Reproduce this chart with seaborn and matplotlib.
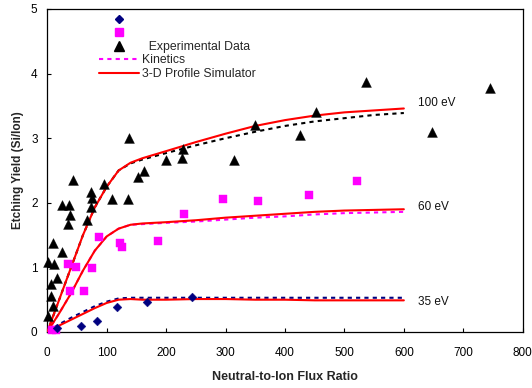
import matplotlib
matplotlib.use("Agg")
import matplotlib.pyplot as plt
from matplotlib.lines import Line2D
import seaborn as sns
import pandas as pd

# ---- experimental data ----
flux_100 = [2, 9, 7, 6, 17, 2, 12, 24, 9, 34, 39, 24, 37, 44, 66, 73, 76, 74,
            95, 109, 136, 138, 152, 162, 200, 227, 229, 314, 349, 425, 452, 536, 647, 745]
yield_100 = [0.24, 0.40, 0.55, 0.75, 0.83, 1.09, 1.06, 1.24, 1.37, 1.67, 1.81, 1.97, 1.97, 2.36, 1.73, 1.93, 2.08, 2.17,
             2.29, 2.06, 2.06, 3.01, 2.40, 2.49, 2.66, 2.70, 2.84, 2.67, 3.20, 3.05, 3.41, 3.87, 3.09, 3.78]

flux_60 = [8, 15, 34, 39, 49, 61, 75, 87, 122, 125, 186, 230, 296, 355, 441, 521]
yield_60 = [0.03, 0.03, 1.05, 0.63, 1.00, 0.63, 0.99, 1.47, 1.38, 1.31, 1.41, 1.83, 2.06, 2.03, 2.12, 2.33]

flux_35 = [16, 56, 84, 118, 167, 243]
yield_35 = [0.06, 0.10, 0.17, 0.38, 0.47, 0.54]

# ---- model curves ----
curve_x = [0, 20, 40, 60, 80, 100, 120, 140, 160, 200, 250, 300, 350, 400, 450, 500, 550, 600]
sim_100 = [0, 0.50, 1.00, 1.50, 1.93, 2.25, 2.50, 2.62, 2.69, 2.80, 2.94, 3.07, 3.19, 3.28, 3.35, 3.40, 3.43, 3.46]
kin_100 = [0, 0.50, 1.00, 1.50, 1.93, 2.25, 2.50, 2.61, 2.67, 2.77, 2.89, 3.00, 3.10, 3.19, 3.26, 3.31, 3.36, 3.39]
sim_60 = [0, 0.29, 0.60, 0.95, 1.26, 1.48, 1.60, 1.66, 1.68, 1.70, 1.73, 1.77, 1.80, 1.83, 1.86, 1.88, 1.89, 1.90]
kin_60 = [0, 0.29, 0.60, 0.95, 1.26, 1.48, 1.60, 1.66, 1.67, 1.69, 1.71, 1.74, 1.77, 1.79, 1.82, 1.84, 1.85, 1.86]
sim_35 = [0, 0.10, 0.19, 0.28, 0.37, 0.45, 0.50, 0.51, 0.50, 0.50, 0.51, 0.51, 0.50, 0.50, 0.49, 0.49, 0.49, 0.49]
kin_35 = [0, 0.12, 0.22, 0.31, 0.40, 0.47, 0.52, 0.53, 0.53, 0.53, 0.53, 0.53, 0.53, 0.53, 0.53, 0.53, 0.53, 0.53]

energy_labels = ["100 eV", "60 eV", "35 eV"]
label_x = [623, 623, 623]
label_y = [3.54, 1.94, 0.47]

x_ticks = [0, 100, 200, 300, 400, 500, 600, 700, 800]
y_ticks = [0, 1, 2, 3, 4, 5]

sns.set_style("ticks")
plt.rcParams["font.family"] = ["Liberation Sans", "DejaVu Sans"]

fig = plt.figure(figsize=(5.32, 3.88), dpi=100)
ax = fig.add_axes([47.3 / 532, 56 / 388, 475.4 / 532, 323 / 388])

NAVY = "#000080"
MAG = "#FF00FF"
RED = "#FF0000"

# kinetics (dashed)
for kin, col in [(kin_100, "black"), (kin_60, MAG), (kin_35, NAVY)]:
    sns.lineplot(x=curve_x, y=kin, color=col, lw=1.5, dashes=False, ax=ax,
                 estimator=None, sort=False, legend=False, zorder=2)
    ax.lines[-1].set_dashes([2.0, 2.0])

# simulator (solid red)
for sim in [sim_100, sim_60, sim_35]:
    sns.lineplot(x=curve_x, y=sim, color=RED, lw=1.5, ax=ax,
                 estimator=None, sort=False, legend=False, zorder=3)

# experimental points
df100 = pd.DataFrame({"flux": flux_100, "yield": yield_100})
df60 = pd.DataFrame({"flux": flux_60, "yield": yield_60})
df35 = pd.DataFrame({"flux": flux_35, "yield": yield_35})
sns.scatterplot(data=df100, x="flux", y="yield", marker="^", color="black",
                s=50, edgecolor="black", linewidth=0.3, ax=ax, legend=False,
                zorder=4, clip_on=False)
sns.scatterplot(data=df60, x="flux", y="yield", marker="s", color=MAG,
                s=36, edgecolor=MAG, linewidth=0.3, ax=ax, legend=False,
                zorder=4, clip_on=False)
sns.scatterplot(data=df35, x="flux", y="yield", marker="D", color=NAVY,
                s=20, edgecolor=NAVY, linewidth=0.3, ax=ax, legend=False,
                zorder=5, clip_on=False)

for t, lx, ly in zip(energy_labels, label_x, label_y):
    ax.text(lx, ly, t, fontsize=8.5, ha="left", va="center", color="#111111")

ax.set_xlim(0, 800)
ax.set_ylim(0, 5)
ax.set_xticks(x_ticks)
ax.set_yticks(y_ticks)
ax.tick_params(direction="in", length=3, width=0.8, labelsize=8.5,
               colors="black")
ax.tick_params(axis="x", pad=11)
ax.tick_params(axis="y", pad=7)
for sp in ax.spines.values():
    sp.set_visible(True)
    sp.set_color("black")
    sp.set_linewidth(0.9)

ax.set_xlabel("Neutral-to-Ion Flux Ratio", fontsize=9, fontweight="bold", labelpad=8.5)
ax.set_ylabel("Etching Yield (Si/Ion)", fontsize=8.5, fontweight="bold", labelpad=5)

handles = [
    Line2D([], [], ls="none", marker="D", color=NAVY, markersize=4.5),
    Line2D([], [], ls="none", marker="s", color=MAG, markersize=6),
    Line2D([], [], ls="none", marker="^", color="black", markersize=7),
    Line2D([], [], color=MAG, lw=1.5, dashes=[2.0, 2.0]),
    Line2D([], [], color=RED, lw=1.5),
]
labels = ["", "", "  Experimental Data", "Kinetics", "3-D Profile Simulator"]
ax.legend(handles, labels, loc="upper left", bbox_to_anchor=(99 / 532, 1 - 14 / 388),
          bbox_transform=fig.transFigure, frameon=False, fontsize=8.8,
          handlelength=3.3, handletextpad=0.25, labelspacing=0.12,
          borderpad=0, borderaxespad=0)

fig.savefig("out.png", dpi=100)
